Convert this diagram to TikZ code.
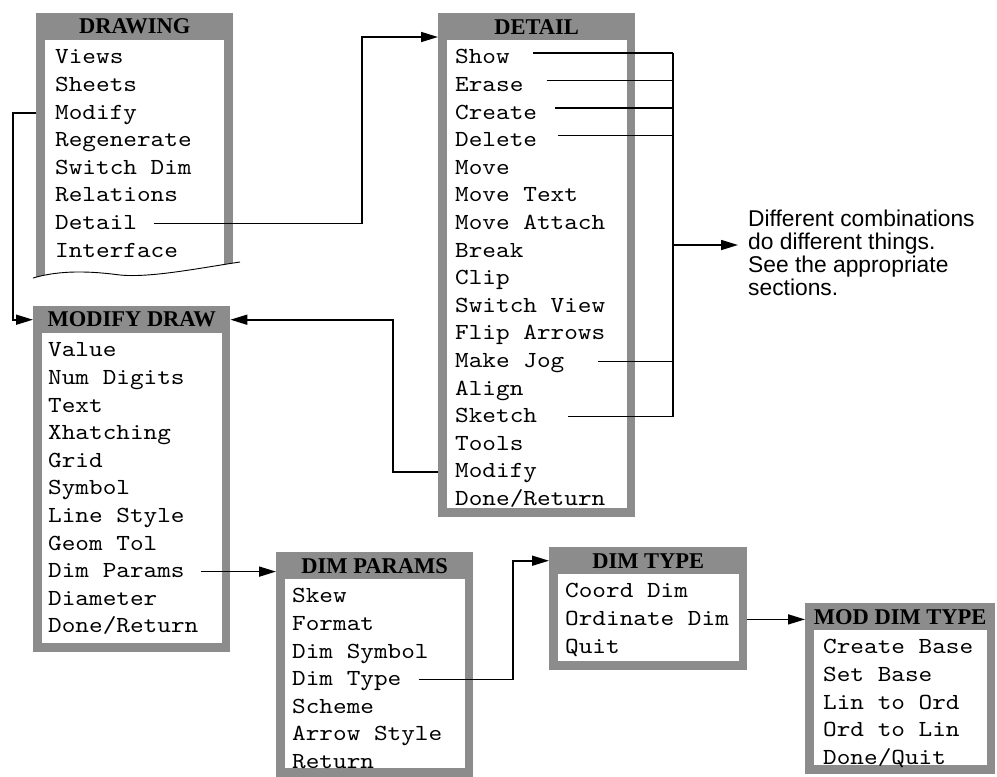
\documentclass[tikz,border=0pt]{standalone}
\usepackage{fontspec}
\usetikzlibrary{arrows.meta, positioning}
\newfontfamily\menufont{lmmono10-regular.otf}[FakeStretch=1.13]
\newfontfamily\titlefont{Liberation Serif}
\newfontfamily\notefont{Liberation Sans}
\definecolor{frame}{RGB}{140,140,140}

\begin{document}
\begin{tikzpicture}[x=1pt, y=-1pt,
    menu/.style={rectangle, fill=frame, inner sep=0pt, minimum width=197pt,
                 anchor=north west},
    ttl/.style={font=\titlefont\bfseries\fontsize{22.5}{22.5}\selectfont,
                inner sep=0pt, minimum height=27pt},
    item/.style={font=\menufont\fontsize{23}{27}\selectfont, inner sep=0pt,
                 minimum height=27.2pt, text height=16pt, text depth=4pt,
                 anchor=north west},
    note/.style={font=\notefont\fontsize{22.8}{23}\selectfont, align=left,
                 inner sep=0pt, anchor=north west},
    wire/.style={line width=1.6pt},
    arr/.style={wire, -{Triangle[length=17pt, width=10pt]}}
  ]
  \useasboundingbox (0,0) rectangle (997,777);

  % DRAWING menu, torn off at the bottom
  \begin{scope}
    \clip (33,0) -- (240,0) -- (240,262)
      .. controls (200,268) and (150,278) .. (120,275)
      .. controls (90,271) and (60,270) .. (33,278) -- cycle;
    \node[menu, minimum height=280pt] (drw) at (36,13) {};
    \fill[white] ([shift={(9,27)}]drw.north west) rectangle ([xshift=-9pt]drw.south east);
  \end{scope}
  \draw[line width=0.9pt] (33,278) .. controls (60,270) and (90,271) .. (120,275)
    .. controls (150,278) and (200,268) .. (240,262);
  \node[ttl, below=0pt of drw.north] (drw-t) {DRAWING};
  \node[item] (dr1) at ([shift={(19,31)}]drw.north west) {Views};
  \node[item] (dr2) at (dr1.south west) {Sheets};
  \node[item] (dr3) at (dr2.south west) {Modify};
  \node[item] (dr4) at (dr3.south west) {Regenerate};
  \node[item] (dr5) at (dr4.south west) {Switch Dim};
  \node[item] (dr6) at (dr5.south west) {Relations};
  \node[item] (dr7) at (dr6.south west) {Detail};
  \node[item] (dr8) at (dr7.south west) {Interface};

  % DETAIL menu
  \node[menu, minimum height=504pt] (det) at (438,13) {};
  \fill[white] ([shift={(9,27)}]det.north west) rectangle ([shift={(-8,-9)}]det.south east);
  \node[ttl, below=0pt of det.north] (det-t) {DETAIL};
  \node[item] (dt1) at ([shift={(17,31)}]det.north west) {Show};
  \node[item] (dt2) at (dt1.south west) {Erase};
  \node[item] (dt3) at (dt2.south west) {Create};
  \node[item] (dt4) at (dt3.south west) {Delete};
  \node[item] (dt5) at (dt4.south west) {Move};
  \node[item] (dt6) at (dt5.south west) {Move Text};
  \node[item] (dt7) at (dt6.south west) {Move Attach};
  \node[item] (dt8) at (dt7.south west) {Break};
  \node[item] (dt9) at (dt8.south west) {Clip};
  \node[item] (dt10) at (dt9.south west) {Switch View};
  \node[item] (dt11) at (dt10.south west) {Flip Arrows};
  \node[item] (dt12) at (dt11.south west) {Make Jog};
  \node[item] (dt13) at (dt12.south west) {Align};
  \node[item] (dt14) at (dt13.south west) {Sketch};
  \node[item] (dt15) at (dt14.south west) {Tools};
  \node[item] (dt16) at (dt15.south west) {Modify};
  \node[item] (dt17) at (dt16.south west) {Done/Return};

  % MODIFY DRAW menu
  \node[menu, minimum height=346pt] (mdd) at (33,306) {};
  \fill[white] ([shift={(9,27)}]mdd.north west) rectangle ([shift={(-8,-9)}]mdd.south east);
  \node[ttl, below=0pt of mdd.north] (mdd-t) {MODIFY DRAW};
  \node[item] (md1) at ([shift={(15,31)}]mdd.north west) {Value};
  \node[item] (md2) at (md1.south west) {Num Digits};
  \node[item] (md3) at (md2.south west) {Text};
  \node[item] (md4) at (md3.south west) {Xhatching};
  \node[item] (md5) at (md4.south west) {Grid};
  \node[item] (md6) at (md5.south west) {Symbol};
  \node[item] (md7) at (md6.south west) {Line Style};
  \node[item] (md8) at (md7.south west) {Geom Tol};
  \node[item] (md9) at (md8.south west) {Dim Params};
  \node[item] (md10) at (md9.south west) {Diameter};
  \node[item] (md11) at (md10.south west) {Done/Return};

  % DIM PARAMS menu
  \node[menu, minimum height=225pt] (dp) at (276,552) {};
  \fill[white] ([shift={(9,27)}]dp.north west) rectangle ([shift={(-8,-9)}]dp.south east);
  \node[ttl, below=0pt of dp.north] (dp-t) {DIM PARAMS};
  \node[item] (dp1) at ([shift={(16,31)}]dp.north west) {Skew};
  \node[item] (dp2) at (dp1.south west) {Format};
  \node[item] (dp3) at (dp2.south west) {Dim Symbol};
  \node[item] (dp4) at (dp3.south west) {Dim Type};
  \node[item] (dp5) at (dp4.south west) {Scheme};
  \node[item] (dp6) at (dp5.south west) {Arrow Style};
  \node[item] (dp7) at (dp6.south west) {Return};

  % DIM TYPE menu
  \node[menu, minimum width=198pt, minimum height=123pt] (ty) at (549,547) {};
  \fill[white] ([shift={(9,27)}]ty.north west) rectangle ([shift={(-8,-9)}]ty.south east);
  \node[ttl, below=0pt of ty.north] (ty-t) {DIM TYPE};
  \node[item] (ty1) at ([shift={(16,31)}]ty.north west) {Coord Dim};
  \node[item] (ty2) at (ty1.south west) {Ordinate Dim};
  \node[item] (ty3) at (ty2.south west) {Quit};

  % MOD DIM TYPE menu
  \node[menu, minimum width=190pt, minimum height=171pt] (mdt) at (805,603) {};
  \fill[white] ([shift={(9,27)}]mdt.north west) rectangle ([shift={(-8,-9)}]mdt.south east);
  \node[ttl, below=0pt of mdt.north] (mdt-t) {MOD DIM TYPE};
  \node[item] (mt1) at ([shift={(18,31)}]mdt.north west) {Create Base};
  \node[item] (mt2) at (mt1.south west) {Set Base};
  \node[item] (mt3) at (mt2.south west) {Lin to Ord};
  \node[item] (mt4) at (mt3.south west) {Ord to Lin};
  \node[item] (mt5) at (mt4.south west) {Done/Quit};

  % side note
  \node[note] (note) at (748,210) {Different combinations\\do different things.\\See the appropriate\\sections.};

  % links between menus
  \coordinate (jdet) at (362,37);
  \coordinate (jlft) at (13,0);
  \coordinate (jmod) at (393,0);
  \coordinate (jdt) at (513,0);
  \draw[arr] ([xshift=17pt]dr7.east) -| (jdet) -- (jdet -| det.west);
  \draw[arr] (dr3.west -| drw.west) -| (jlft |- mdd-t) -- (mdd-t -| mdd.west);
  \draw[arr] (dt16.west -| det.west) -| (jmod |- mdd-t) -- (mdd-t -| mdd.east);
  \draw[arr] ([xshift=16pt]md9.east) -- (md9.east -| dp.west);
  \draw[arr] ([xshift=17pt]dp4.east) -| (jdt |- ty-t) -- (ty-t -| ty.west);
  \draw[arr] (ty2.east -| ty.east) -- (ty2.east -| mdt.west);

  % combined DETAIL options
  \coordinate (bus) at (673,245);
  \draw[wire] ([xshift=23pt, yshift=5pt]dt1.east) -- ([yshift=5pt]dt1.east -| bus);
  \draw[wire] ([xshift=23pt, yshift=5pt]dt2.east) -- ([yshift=5pt]dt2.east -| bus);
  \draw[wire] ([xshift=18pt, yshift=5pt]dt3.east) -- ([yshift=5pt]dt3.east -| bus);
  \draw[wire] ([xshift=21pt, yshift=5pt]dt4.east) -- ([yshift=5pt]dt4.east -| bus);
  \draw[wire] ([xshift=33pt]dt12.east) -- (dt12.east -| bus);
  \draw[wire] ([xshift=31pt]dt14.east) -- (dt14.east -| bus);
  \draw[wire] ([yshift=5pt]dt1.east -| bus) -- (dt14.east -| bus);
  \draw[arr] (bus) -- ([xshift=-10pt]bus -| note.west);
\end{tikzpicture}
\end{document}
